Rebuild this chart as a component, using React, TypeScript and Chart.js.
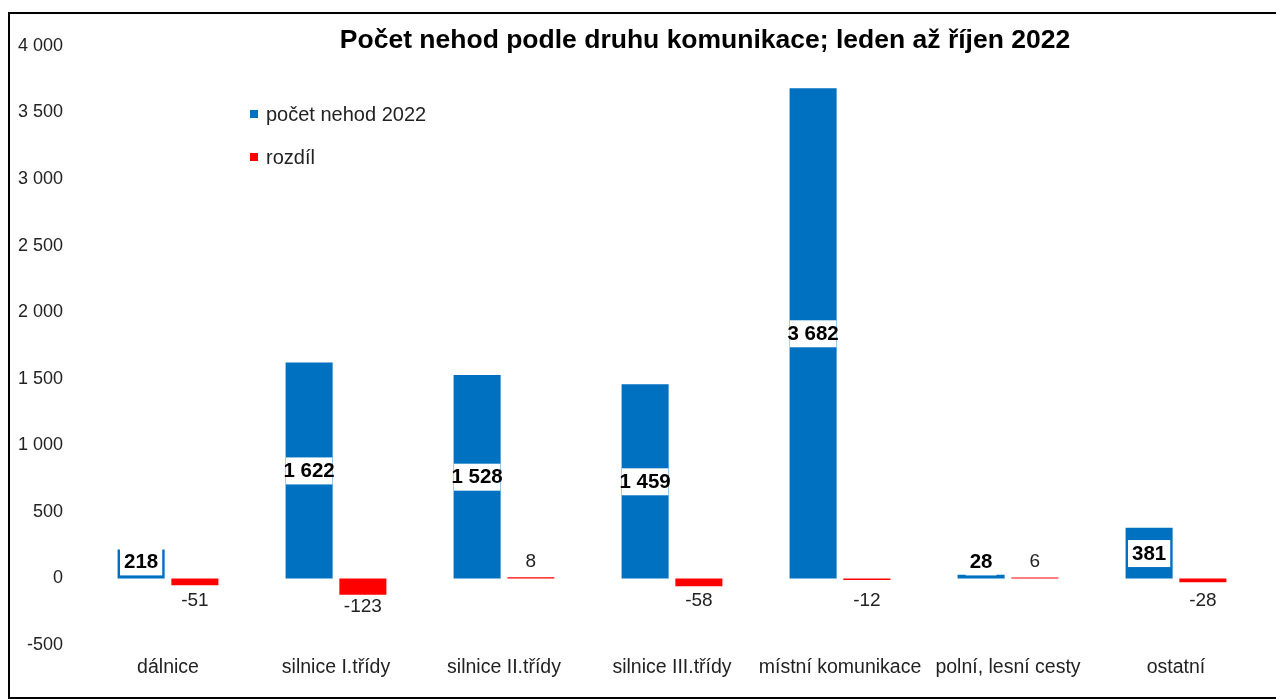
import React, { useEffect, useRef } from "react";
import { Chart, registerables } from "chart.js";

Chart.register(...registerables);

const categories = [
  "dálnice",
  "silnice I.třídy",
  "silnice II.třídy",
  "silnice III.třídy",
  "místní komunikace",
  "polní, lesní cesty",
  "ostatní",
];
const pocetNehod2022 = [218, 1622, 1528, 1459, 3682, 28, 381];
const rozdil = [-51, -123, 8, -58, -12, 6, -28];
const seriesNames = ["počet nehod 2022", "rozdíl"];
const titleText = "Počet nehod podle druhu komunikace; leden až říjen 2022";

const BLUE = "#0070C0";
const RED = "#FF0000";
const FONT = "'Liberation Sans', Arial, sans-serif";

const fmt = (v: number) => {
  const s = Math.abs(v).toString().replace(/\B(?=(\d{3})+(?!\d))/g, " ");
  return (v < 0 ? "-" : "") + s;
};

const overlayPlugin = {
  id: "overlay",
  afterDraw(chart: any) {
    const ctx = chart.ctx;
    const y = chart.scales.y;
    const zero = y.getPixelForValue(0);
    ctx.save();
    // title
    ctx.font = `bold 26.5px ${FONT}`;
    ctx.fillStyle = "#000";
    ctx.textAlign = "center";
    ctx.textBaseline = "middle";
    ctx.fillText(titleText, 695, 27);

    // legend
    const legendItems = [
      { label: chart.data.datasets[0].label, color: BLUE, y: 100 },
      { label: chart.data.datasets[1].label, color: RED, y: 143 },
    ];
    ctx.font = `20px ${FONT}`;
    ctx.textAlign = "left";
    for (const it of legendItems) {
      ctx.fillStyle = it.color;
      ctx.fillRect(240, it.y - 4, 8, 8);
      ctx.fillStyle = "#222";
      ctx.fillText(it.label, 256, it.y + 1);
    }

    // blue labels
    const m0 = chart.getDatasetMeta(0);
    m0.data.forEach((bar: any, i: number) => {
      const v = chart.data.datasets[0].data[i];
      const center = (bar.y + bar.base) / 2;
      const ly = Math.min(center, zero - 17);
      ctx.font = `bold 20.5px ${FONT}`;
      const tw = ctx.measureText(fmt(v)).width;
      const w = Math.min(tw + 8, bar.width - 0.5);
      ctx.fillStyle = "#fff";
      ctx.fillRect(bar.x - w / 2, ly - 13, w, 27);
      ctx.fillStyle = "#000";
      ctx.textAlign = "center";
      ctx.fillText(fmt(v), bar.x, ly + 1);
    });

    // red labels
    const m1 = chart.getDatasetMeta(1);
    m1.data.forEach((bar: any, i: number) => {
      const v = chart.data.datasets[1].data[i];
      const ly = v < 0 ? Math.max(zero + 22, bar.y + 12) : zero - 17;
      ctx.fillStyle = "#222";
      ctx.font = `19px ${FONT}`;
      ctx.textAlign = "center";
      ctx.fillText(fmt(v), bar.x, ly);
    });
    ctx.restore();
  },
};

export default function App() {
  const ref = useRef<HTMLCanvasElement>(null);
  useEffect(() => {
    if (!ref.current) return;
    const chart = new Chart(ref.current, {
      type: "bar",
      data: {
        labels: categories,
        datasets: [
          {
            label: seriesNames[0],
            data: pocetNehod2022,
            backgroundColor: BLUE,
            categoryPercentage: 0.64,
            barPercentage: 0.875,
          },
          {
            label: seriesNames[1],
            data: rozdil,
            backgroundColor: RED,
            categoryPercentage: 0.64,
            barPercentage: 0.875,
          },
        ],
      },
      options: {
        animation: false,
        responsive: false,
        maintainAspectRatio: false,
        layout: { padding: { left: 2, right: 22, top: 26, bottom: 0 } },
        plugins: {
          legend: { display: false },
          title: { display: false },
          tooltip: { enabled: false },
        },
        scales: {
          x: {
            grid: { display: false, drawTicks: false },
            border: { display: false },
            ticks: {
              font: { family: FONT, size: 19.5 },
              color: "#222",
              padding: 11,
              maxRotation: 0,
              autoSkip: false,
            },
            afterFit: (s: any) => {
              s.height = 52;
            },
          },
          y: {
            min: -500,
            max: 4000,
            grid: { display: false, drawTicks: false },
            border: { display: false },
            ticks: {
              stepSize: 500,
              font: { family: FONT, size: 18 },
              color: "#222",
              padding: 21,
              callback: (v: any) => fmt(Number(v)),
            },
            afterFit: (s: any) => {
              s.width = 72;
            },
          },
        },
      },
      plugins: [overlayPlugin],
    });
    return () => chart.destroy();
  }, []);
  return (
    <div
      style={{
        marginTop: 4,
        width: 1276,
        height: 687,
        border: "2px solid #000",
        boxSizing: "border-box",
        overflow: "hidden",
        background: "#fff",
      }}
    >
      <canvas ref={ref} width={1272} height={683} style={{ display: "block" }} />
    </div>
  );
}
